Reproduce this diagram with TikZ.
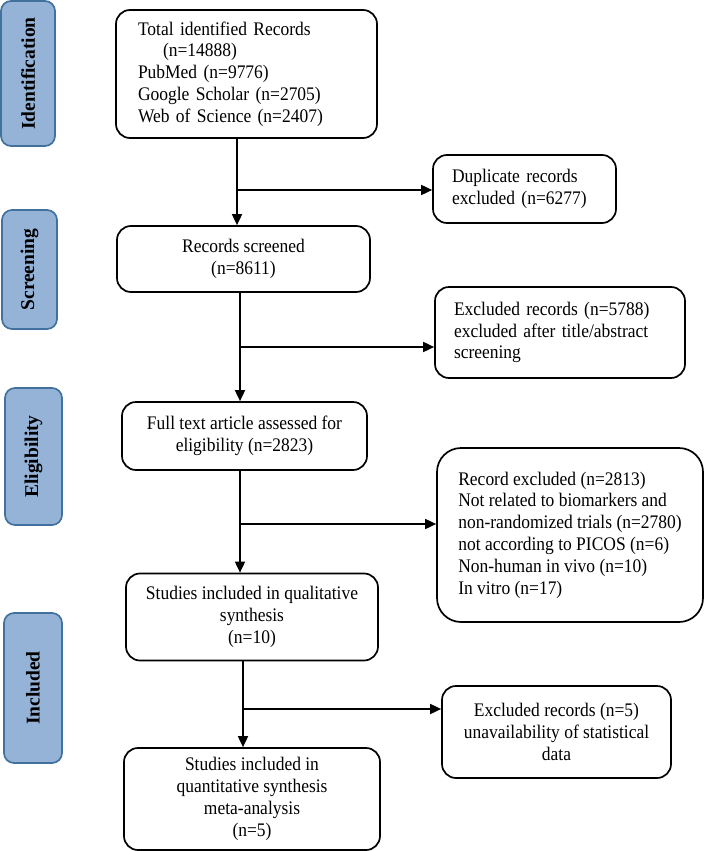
\documentclass[tikz,border=0pt]{standalone}
\usepackage{fontspec}
\setmainfont{Liberation Serif}
\newfontfamily\boxfont[FakeStretch=0.91]{Liberation Serif}
\usetikzlibrary{arrows.meta}
\definecolor{stagefill}{HTML}{95B3D7}
\definecolor{stageline}{HTML}{41719C}
\begin{document}
\begin{tikzpicture}[x=1pt,y=-1pt,
  box/.style={draw=black, line width=1.7pt, rounded corners=14pt, inner sep=0pt,
    font=\boxfont\fontsize{19.2}{21.8}\selectfont},
  leftbox/.style={box, align=left},
  centerbox/.style={box, align=center},
  stage/.style={draw=stageline, fill=stagefill, line width=1.7pt, rounded corners=10pt,
    inner sep=0pt, rotate=90, font=\fontsize{19.5}{22}\selectfont\bfseries},
  ln/.style={line width=1.7pt},
  arr/.style={line width=1.7pt, -{Triangle[length=11pt,width=10pt]}}]
\useasboundingbox (0,0) rectangle (709,851);

% stage labels
\node[stage, minimum width=145pt, minimum height=54pt] (sid) at (28,73.5) {Identification};
\node[stage, minimum width=119pt, minimum height=55pt] (ssc) at (29.5,269.5) {Screening};
\node[stage, minimum width=137pt, minimum height=57pt] (sel) at (33.5,456.5) {Eligibility};
\node[stage, minimum width=150pt, minimum height=58pt] (sin) at (33,688) {Included};

% main column
\node[leftbox, minimum width=261pt, minimum height=128pt, text width=217pt] (b1) at (246.5,74)
  {Total identified Records\\\hspace*{25pt}(n=14888)\\PubMed (n=9776)\\Google Scholar (n=2705)\\Web of Science (n=2407)};
\node[centerbox, minimum width=253pt, minimum height=66pt] (b2) at (243.5,259)
  {Records screened\\(n=8611)};
\node[centerbox, minimum width=245pt, minimum height=68pt] (b3) at (244.5,436)
  {Full text article assessed for\\eligibility (n=2823)};
\node[centerbox, minimum width=252pt, minimum height=87pt] (b4) at (252,617)
  {Studies included in qualitative\\synthesis\\(n=10)};
\node[centerbox, minimum width=256pt, minimum height=102pt] (b5) at (252,799)
  {Studies included in\\quantitative synthesis\\meta-analysis\\(n=5)};

% exclusion column
\node[leftbox, minimum width=183pt, minimum height=68pt, text width=145pt] (e1) at (524.5,189)
  {Duplicate records\\excluded (n=6277)};
\node[leftbox, minimum width=250pt, minimum height=91pt, text width=212pt] (e2) at (560,332.5)
  {Excluded records (n=5788)\\excluded after title/abstract\\screening};
\node[leftbox, rounded corners=24pt, minimum width=266pt, minimum height=174pt] (e3) at (570,535)
  {Record excluded (n=2813)\\Not related to biomarkers and\\non-randomized trials (n=2780)\\not according to PICOS (n=6)\\Non-human in vivo (n=10)\\In vitro (n=17)};
\node[centerbox, minimum width=229pt, minimum height=92pt] (e4) at (556.5,732)
  {Excluded records (n=5)\\unavailability of statistical\\data};

% junctions
\coordinate (j1) at (237,190);
\coordinate (j2) at (240,347);
\coordinate (j3) at (240,524);
\coordinate (j4) at (243,709);

\draw[ln] (b1.south -| j1) -- (j1);
\draw[arr] (j1) -- (b2.north -| j1);
\draw[arr] (j1) -- (j1 -| e1.west);

\draw[ln] (b2.south -| j2) -- (j2);
\draw[arr] (j2) -- (b3.north -| j2);
\draw[arr] (j2) -- (j2 -| e2.west);

\draw[ln] (b3.south -| j3) -- (j3);
\draw[arr] (j3) -- (b4.north -| j3);
\draw[arr] (j3) -- (j3 -| e3.west);

\draw[ln] (b4.south -| j4) -- (j4);
\draw[arr] (j4) -- (b5.north -| j4);
\draw[arr] (j4) -- (j4 -| e4.west);
\end{tikzpicture}
\end{document}
